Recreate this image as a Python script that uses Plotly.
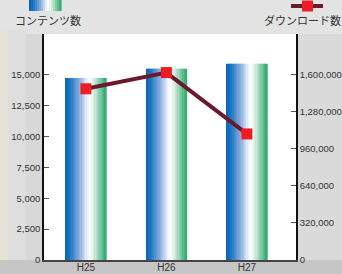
import plotly.graph_objects as go
from plotly.colors import sample_colorscale

categories = ["H25", "H26", "H27"]
contents = [14750, 15500, 15900]
downloads = [1480000, 1620000, 1090000]
left_ticks = [0, 2500, 5000, 7500, 10000, 12500, 15000]
right_ticks = [0, 320000, 640000, 960000, 1280000, 1600000]

W, H = 342, 274
L, R, T, B = 44, 46, 34, 14
pw, ph = W - L - R, H - T - B

grad = [[0.0, "#0766b5"], [0.12, "#1f78c4"], [0.35, "#8aaddd"], [0.55, "#eef3fa"],
        [0.62, "#ffffff"], [0.75, "#c3e5d1"], [1.0, "#37ad77"]]

fig = go.Figure()
xs = list(range(len(categories)))
bw = 0.505
N = 32
cols = sample_colorscale(grad, [i / (N - 1) for i in range(N)])
for i, c in enumerate(cols):
    fig.add_trace(go.Bar(x=xs, y=contents, width=bw / N * 1.4, offset=-bw / 2 + i * bw / N,
                         marker=dict(color=c, line=dict(width=0)), showlegend=False,
                         hoverinfo="skip"))

fig.add_trace(go.Scatter(x=xs, y=downloads, yaxis="y2", mode="lines+markers",
                         line=dict(color="#6b1a2c", width=4),
                         marker=dict(symbol="square", size=11, color="#ee1c25"),
                         showlegend=False))

lmax = 15000 * (260.5 - 34) / (260.5 - 75)
rmax = lmax * 1600000 / 15000

def px(X):
    return (X - L) / pw

def py(Y):
    return (H - B - Y) / ph

def rect(x0, y0, x1, y1, color, layer="below"):
    return dict(type="rect", xref="paper", yref="paper", x0=px(x0), x1=px(x1),
                y0=py(y1), y1=py(y0), fillcolor=color, line=dict(width=0), layer=layer)

shapes = [
    rect(0, 0, W, H, "#d8d8d8"),
    rect(0, 0, W, 34, "#e3e3e3"),
    rect(0, 260, W, H, "#c6c6c6"),
    rect(0, 30, 8, 260, "#e6e2d8"),
    rect(8, 30, 26, 260, "#dedede"),
    rect(296, 34, W, 260, "#dadada"),
    rect(L, T, W - R, H - B, "#ffffff"),
]
# legend gradient swatch
M = 16
scols = sample_colorscale(grad, [i / (M - 1) for i in range(M)])
sx0, sx1 = 29, 61
for i, c in enumerate(scols):
    shapes.append(rect(sx0 + (sx1 - sx0) * i / M, 0, sx0 + (sx1 - sx0) * (i + 1.3) / M, 11,
                       c, layer="above"))
# legend line swatch
shapes.append(dict(type="line", xref="paper", yref="paper", x0=px(291), x1=px(323),
                   y0=py(6), y1=py(6), line=dict(color="#6b1a2c", width=4)))
shapes.append(rect(302, 0.5, 313, 11.5, "#ee1c25", layer="above"))

annotations = [
    dict(text="コンテンツ数", xref="paper", yref="paper", x=px(13), y=py(20), xanchor="left",
         yanchor="middle", showarrow=False,
         font=dict(family="Noto Sans CJK JP", size=11, color="#333333")),
    dict(text="ダウンロード数", xref="paper", yref="paper", x=px(343), y=py(20), xanchor="right",
         yanchor="middle", showarrow=False,
         font=dict(family="Noto Sans CJK JP", size=11, color="#333333")),
]

tickfont = dict(family="Liberation Sans, Arial", size=9.5, color="#333333")
fig.update_layout(
    width=W, height=H, margin=dict(l=L, r=R, t=T, b=B, pad=0, autoexpand=False),
    paper_bgcolor="#d8d8d8", plot_bgcolor="#ffffff", barmode="overlay",
    shapes=shapes, annotations=annotations,
    xaxis=dict(tickvals=xs, ticktext=categories, range=[-0.52, 2.61], showgrid=False,
               zeroline=False, showline=True, linecolor="#444444", linewidth=1.5,
               automargin=False, ticks="", ticklabelstandoff=-3,
               tickfont=dict(family="Liberation Sans, Arial", size=10, color="#333333")),
    yaxis=dict(range=[0, lmax], tickvals=left_ticks, tickformat=",d", showgrid=False,
               zeroline=False, showline=True, linecolor="#111111", linewidth=1.5,
               automargin=False,
               ticks="inside", ticklen=5, tickcolor="#555555", tickfont=tickfont),
    yaxis2=dict(range=[0, rmax], tickvals=right_ticks, tickformat=",d", overlaying="y",
                side="right", showgrid=False, zeroline=False, showline=True,
                automargin=False,
                linecolor="#111111", linewidth=1.5, ticks="inside", ticklen=5,
                tickcolor="#555555", tickfont=tickfont),
)

fig.write_html("out.html", config={"displayModeBar": False},
               post_script="document.body.style.margin='0px';")
